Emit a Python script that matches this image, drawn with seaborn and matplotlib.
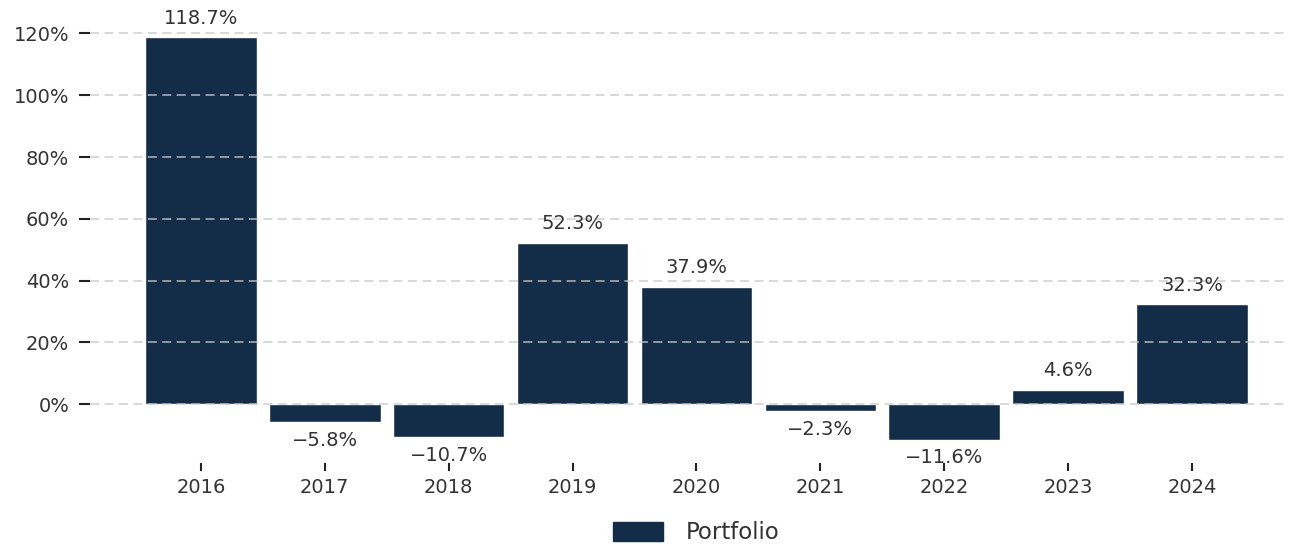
import matplotlib
matplotlib.use("Agg")
import matplotlib.pyplot as plt
import matplotlib.patches as mpatches
from matplotlib.ticker import FuncFormatter
import seaborn as sns
import pandas as pd

# Annual portfolio returns (%)
years = ["2016", "2017", "2018", "2019", "2020", "2021", "2022", "2023", "2024"]
returns = [118.7, -5.8, -10.7, 52.3, 37.9, -2.3, -11.6, 4.6, 32.3]
y_ticks = [0, 20, 40, 60, 80, 100, 120]
series_name = "Portfolio"

BAR = "#132d48"
TEXT = "#333333"

sns.set_theme(style="white")
plt.rcParams["font.family"] = ["DejaVu Sans"]

df = pd.DataFrame({"year": years, "ret": returns})

fig = plt.figure(figsize=(12.89, 5.46), dpi=100)
ax = fig.add_axes([0.0698, 0.152, 0.929, 0.815])

sns.barplot(data=df, x="year", y="ret", color=BAR, width=0.9,
            saturation=1, ax=ax, zorder=1)

ax.set_ylim(-19, 125)
ax.set_xlim(-0.895, 8.77)
ax.set_yticks(y_ticks)
ax.yaxis.set_major_formatter(FuncFormatter(lambda v, _: f"{v:.0f}%"))

ax.grid(axis="y", linestyle=(0, (5, 3)), color="#c8c8c8", linewidth=1.3,
        alpha=0.75, zorder=3)
ax.set_axisbelow(False)
for s in ax.spines.values():
    s.set_visible(False)

ax.tick_params(axis="y", left=True, length=8, width=1.5, color="#222222",
               labelsize=14, labelcolor=TEXT, pad=7)
ax.tick_params(axis="x", bottom=True, length=6, width=1.5, color="#222222",
               labelsize=14, labelcolor=TEXT, pad=5)
ax.set_xlabel("")
ax.set_ylabel("")

# Value labels above / below each bar
for i, v in enumerate(returns):
    txt = f"{v:.1f}%".replace("-", "\u2212")
    if v >= 0:
        ax.annotate(txt, (i, v), xytext=(0, 7), textcoords="offset points",
                    ha="center", va="bottom", fontsize=14, color=TEXT,
                    annotation_clip=False, zorder=5)
    else:
        ax.annotate(txt, (i, v), xytext=(0, -6), textcoords="offset points",
                    ha="center", va="top", fontsize=14, color=TEXT,
                    annotation_clip=False, zorder=5)

handle = mpatches.Patch(color=BAR, label=series_name)
fig.legend(handles=[handle], loc="center", bbox_to_anchor=(0.54, 0.024),
           frameon=False, fontsize=16.5, handlelength=2.2, handleheight=0.9,
           handletextpad=1.0, labelcolor=TEXT)

fig.savefig("out.png", dpi=100)
